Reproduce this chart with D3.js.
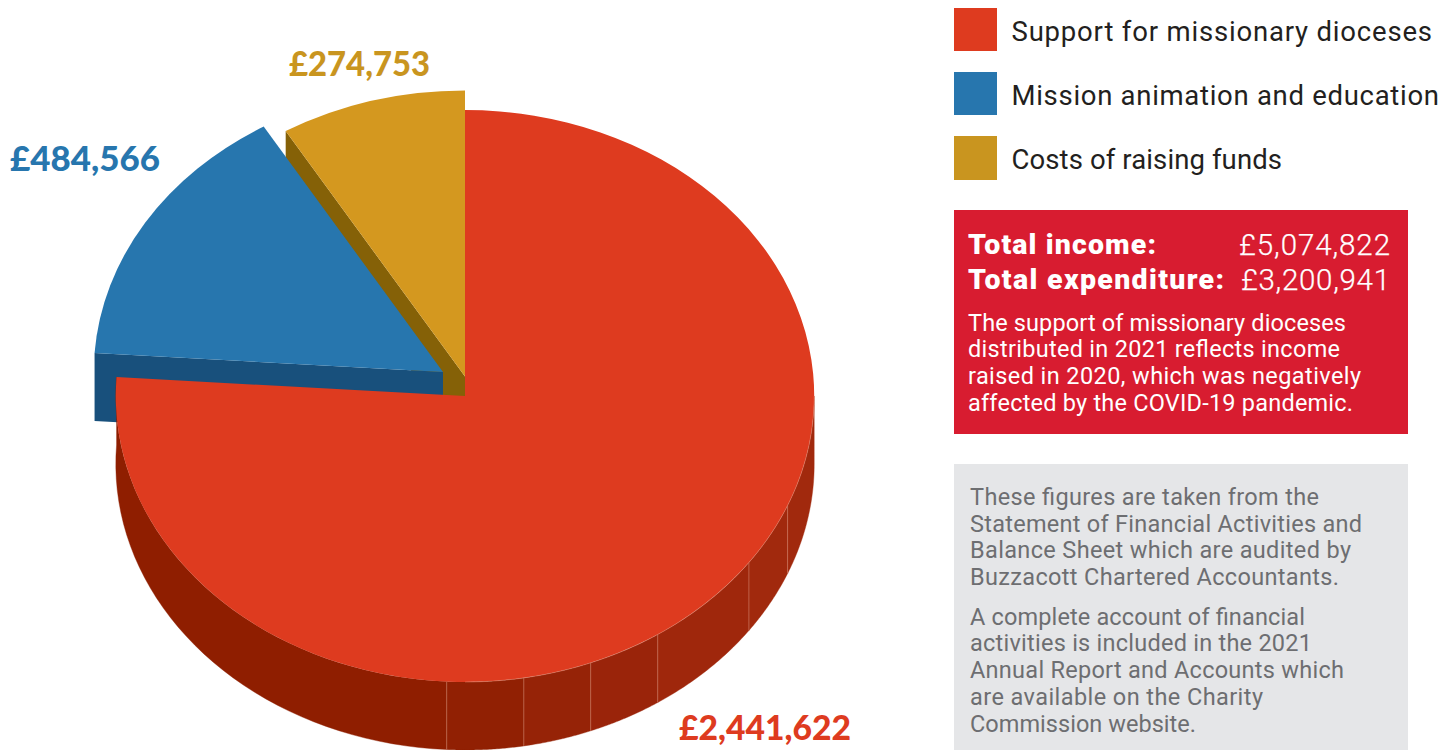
<!DOCTYPE html>
<html><head><meta charset="utf-8">
<script src="https://cdn.jsdelivr.net/npm/d3@7"></script>
<style>html,body{margin:0;padding:0;background:#fff;overflow:hidden}svg{display:block}
text{font-family:Roboto,sans-serif}</style></head>
<body><svg id="c" width="1443" height="750"></svg>
<script>
const categories = ["Support for missionary dioceses","Mission animation and education","Costs of raising funds"];
const seriesValues = [2441622,484566,274753];
const valueLabels = ["£2,441,622","£484,566","£274,753"];
const incomeLines = [["Total income:","£5,074,822"],["Total expenditure:","£3,200,941"]];
const noteLines = ["The support of missionary dioceses","distributed in 2021 reflects income","raised in 2020, which was negatively","affected by the COVID-19 pandemic."];
const auditLines = ["These figures are taken from the","Statement of Financial Activities and","Balance Sheet which are audited by","Buzzacott Chartered Accountants."];
const accountLines = ["A complete account of financial","activities is included in the 2021","Annual Report and Accounts which","are available on the Charity","Commission website."];

const svg = d3.select("#c");
const rx = 349.2, ry = 286, depth = 68, cx = 465, cy = 396;
const topCol = ["#DE3B1F","#2776AE","#D4981F"], legendCol = ["#DE3B1F","#2776AE","#C9951F"];
const sideCol = ["#8F1E00","#18507C","#856107"];
const offsets = [[0,0],[-22,-24],[0,-19.5]];

const pieData = d3.pie().sort(null).value(d=>d)(seriesValues);
// The reference's red/blue boundary sits slightly before the exact share; drawing nudge only.
const boundaryNudge = -0.8*Math.PI/180;
pieData[0].endAngle += boundaryNudge;
pieData[1].startAngle += boundaryNudge;
const arc = d3.arc().innerRadius(0).outerRadius(rx);
const rad = d=>d*Math.PI/180;
const pt = (a,o,dz=0)=>[cx+o[0]+rx*Math.sin(a), cy+o[1]-ry*Math.cos(a)+dz];
const centre = (o,dz=0)=>[cx+o[0], cy+o[1]+dz];
const poly = p=>"M"+p.map(q=>q.join(",")).join("L")+"Z";
const g = svg.append("g");
function topFace(i){
  g.append("path").attr("d",arc(pieData[i]))
   .attr("transform",`translate(${cx+offsets[i][0]},${cy+offsets[i][1]}) scale(1,${ry/rx})`)
   .attr("fill",topCol[i]);
}
function radial(i,a){
  const o=offsets[i];
  g.append("path").attr("d",poly([pt(a,o),centre(o),centre(o,depth),pt(a,o,depth)])).attr("fill",sideCol[i]);
}
// back to front: gold, blue, red
radial(2,pieData[2].startAngle); topFace(2);
radial(1,pieData[1].startAngle); topFace(1);

// Red rim, drawn as shaded facets
const facetDeg = [90,112.5,125.6,146.5,158.9,170.3,183,pieData[0].endAngle*180/Math.PI];
const facetCol = ["#A1290D","#A1290D","#9F270C","#9A240A","#962307","#912003","#8F1E00"];
const o0 = offsets[0];
facetCol.forEach((c,i)=>{
  const as = d3.range(0,41).map(k=>rad(facetDeg[i]+(facetDeg[i+1]-facetDeg[i])*k/40));
  const upper = as.map(a=>pt(a,o0)), lower = as.map(a=>pt(a,o0,depth)).reverse();
  g.append("path").attr("d",poly(upper.concat(lower))).attr("fill",c).attr("stroke",c).attr("stroke-width",.4);
});
facetDeg.slice(1,-1).forEach(d=>{
  const a=rad(d), p=pt(a,o0), q=pt(a,o0,depth);
  g.append("line").attr("x1",p[0]).attr("y1",p[1]).attr("x2",q[0]).attr("y2",q[1])
   .attr("stroke","#E8A58F").attr("stroke-opacity",.55).attr("stroke-width",.8);
});
topFace(0);
// faint highlight where the top face meets the rim
g.append("path")
 .attr("d",d3.line()(d3.range(0,101).map(k=>pt(rad(90+90*k/100),o0))))
 .attr("fill","none").attr("stroke","#EFA68E").attr("stroke-opacity",.5).attr("stroke-width",.7);

// value labels
const labelPos = [[679,740,172],[10,171,150],[289,76,141]];
valueLabels.forEach((t,i)=>{
  svg.append("text").text(t).attr("x",labelPos[i][0]).attr("y",labelPos[i][1])
   .attr("textLength",labelPos[i][2]).attr("lengthAdjust","spacingAndGlyphs")
   .attr("font-size",35).attr("font-weight",900).style("font-family","Lato,sans-serif").attr("fill",legendCol[i]);
});

// legend
const legendY=[8,72,136], legendR=[1432,1439,1282];
categories.forEach((t,i)=>{
  svg.append("rect").attr("x",954).attr("y",legendY[i]).attr("width",43).attr("height",i==2?44:43).attr("fill",legendCol[i]);
  svg.append("text").text(t).attr("x",1011.5).attr("y",legendY[i]+33).attr("textLength",legendR[i]-1011.5)
   .attr("font-size",27.5).attr("fill","#231F20");
});

// red panel
svg.append("rect").attr("x",954).attr("y",210).attr("width",454).attr("height",224).attr("fill","#D81C30");
const incY=[254,289], incR=[1156,1224], valL=[1239,1241];
incomeLines.forEach((l,i)=>{
  svg.append("text").text(l[0]).attr("x",968).attr("y",incY[i]).attr("textLength",incR[i]-968)
    .attr("font-size",28.5).attr("font-weight",900).attr("fill","#fff");
  svg.append("text").text(l[1]).attr("x",valL[i]).attr("y",incY[i]+.5).attr("textLength",1390-valL[i])
    .attr("font-size",29.5).attr("font-weight",300).attr("fill","#fff").attr("stroke","#fff").attr("stroke-width",.25);
});
const noteY=[331,357,384,411], noteR=[1346,1340,1361,1353];
noteLines.forEach((t,i)=>svg.append("text").text(t).attr("x",968).attr("y",noteY[i]).attr("textLength",noteR[i]-968)
    .attr("font-size",23.5).attr("fill","#fff"));

// grey panel
svg.append("rect").attr("x",954).attr("y",464).attr("width",454).attr("height",286).attr("fill","#E5E6E8");
const greyY=[505,532,558,585,625,651,678,705,732], greyR=[1319,1362,1351,1339,1305,1312,1344,1263,1196];
auditLines.concat(accountLines).forEach((t,i)=>svg.append("text").text(t).attr("x",970).attr("y",greyY[i]).attr("textLength",greyR[i]-970)
    .attr("font-size",23.5).attr("fill","#6D6E71"));
</script></body></html>
